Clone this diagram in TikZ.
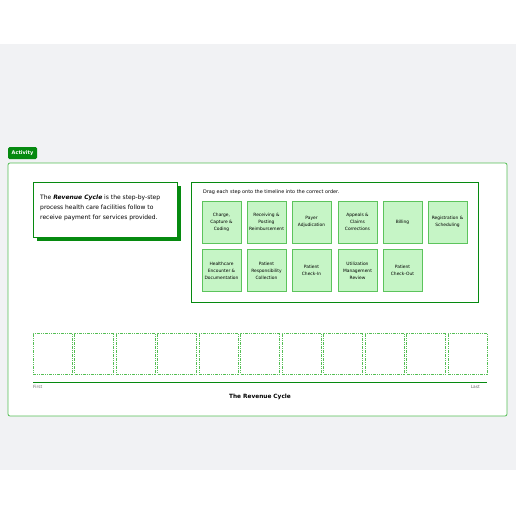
\documentclass[tikz,border=0pt]{standalone}
\usepackage{fontspec}
\setmainfont{DejaVu Sans}
\usetikzlibrary{positioning}
\definecolor{pagegray}{HTML}{F1F2F4}
\definecolor{darkgreen}{HTML}{068A10}
\definecolor{midgreen}{HTML}{55BE55}
\definecolor{cardfill}{HTML}{C6F5C6}
\definecolor{cardline}{HTML}{5CC45C}
\definecolor{hinttext}{HTML}{666666}
\begin{document}
\begin{tikzpicture}[x=1pt, y=-1pt,
    card/.style={draw=cardline, line width=0.9pt, fill=cardfill, minimum width=39pt, minimum height=42pt,
        align=center, font=\fontsize{4.4}{7}\selectfont, inner sep=1pt},
    slot/.style={draw=midgreen, line width=0.8pt, dash pattern=on 3pt off 1pt on 1pt off 1pt on 1pt off 1pt,
        minimum width=39pt, minimum height=41pt},
    panel/.style={draw=darkgreen, line width=1pt, fill=white}]
    %background
    \useasboundingbox (0,0) rectangle (516,516);
    \fill[white] (0,0) rectangle (516,516);
    \fill[pagegray] (0,44) rectangle (516,470);
    %activity frame
    \node[fill=darkgreen, rounded corners=1.5pt, text=white, font=\fontsize{5}{6}\selectfont\bfseries,
        minimum width=29pt, minimum height=12pt, inner sep=1pt] at (22.5,153) (tag) {Activity};
    \draw[midgreen, line width=0.8pt, fill=white, rounded corners=2pt] (8,163) rectangle (507,416);
    %intro box
    \fill[darkgreen] (37,186) rectangle (181,241);
    \draw[panel] (33,182) rectangle (177,237);
    \node[anchor=north west, align=left, font=\fontsize{6}{10}\selectfont, inner sep=0pt] at (40,195) (intro)
        {The \textbf{\textit{Revenue Cycle}} is the step-by-step\\process health care facilities follow to\\receive payment for services provided.};
    %drag panel
    \draw[panel] (191,182) rectangle (478,302);
    \node[anchor=west, font=\fontsize{4.9}{6}\selectfont, inner sep=0pt] at (203,192) (hint)
        {Drag each step onto the timeline into the correct order.};
    %cards
    \node[card] at (221.5,222) (c1) {Charge,\\Capture \&\\Coding};
    \node[card] at (266.5,222) (c2) {Receiving \&\\Posting\\Reimbursement};
    \node[card] at (311.5,222) (c3) {Payer\\Adjudication};
    \node[card] at (357.5,222) (c4) {Appeals \&\\Claims\\Corrections};
    \node[card] at (402.5,222) (c5) {Billing};
    \node[card] at (447.5,222) (c6) {Registration \&\\Scheduling};
    \node[card] at (221.5,270.5) (c7) {Healthcare\\Encounter \&\\Documentation};
    \node[card] at (266.5,270.5) (c8) {Patient\\Responsibility\\Collection};
    \node[card] at (311.5,270.5) (c9) {Patient\\Check-In};
    \node[card] at (357.5,270.5) (c10) {Utilization\\Management\\Review};
    \node[card] at (402.5,270.5) (c11) {Patient\\Check-Out};
    %timeline
    \foreach \i in {0,...,10}
        \node[slot] at (52.5+41.5*\i,353.5) (s\i) {};
    \coordinate (tstart) at (33,382);
    \coordinate (tend) at (487,382);
    \draw[darkgreen, line width=1pt] (tstart) -- (tend);
    \node[anchor=north west, text=hinttext, font=\fontsize{4.3}{5}\selectfont, inner sep=0pt] at (tstart) [yshift=-3pt] (first) {First};
    \node[anchor=north east, text=hinttext, font=\fontsize{4.3}{5}\selectfont, inner sep=0pt] at (tend) [yshift=-3pt, xshift=-7pt] (last) {Last};
    \node[font=\fontsize{5.8}{7}\selectfont\bfseries] at (260,397) (title) {The Revenue Cycle};
\end{tikzpicture}
\end{document}
